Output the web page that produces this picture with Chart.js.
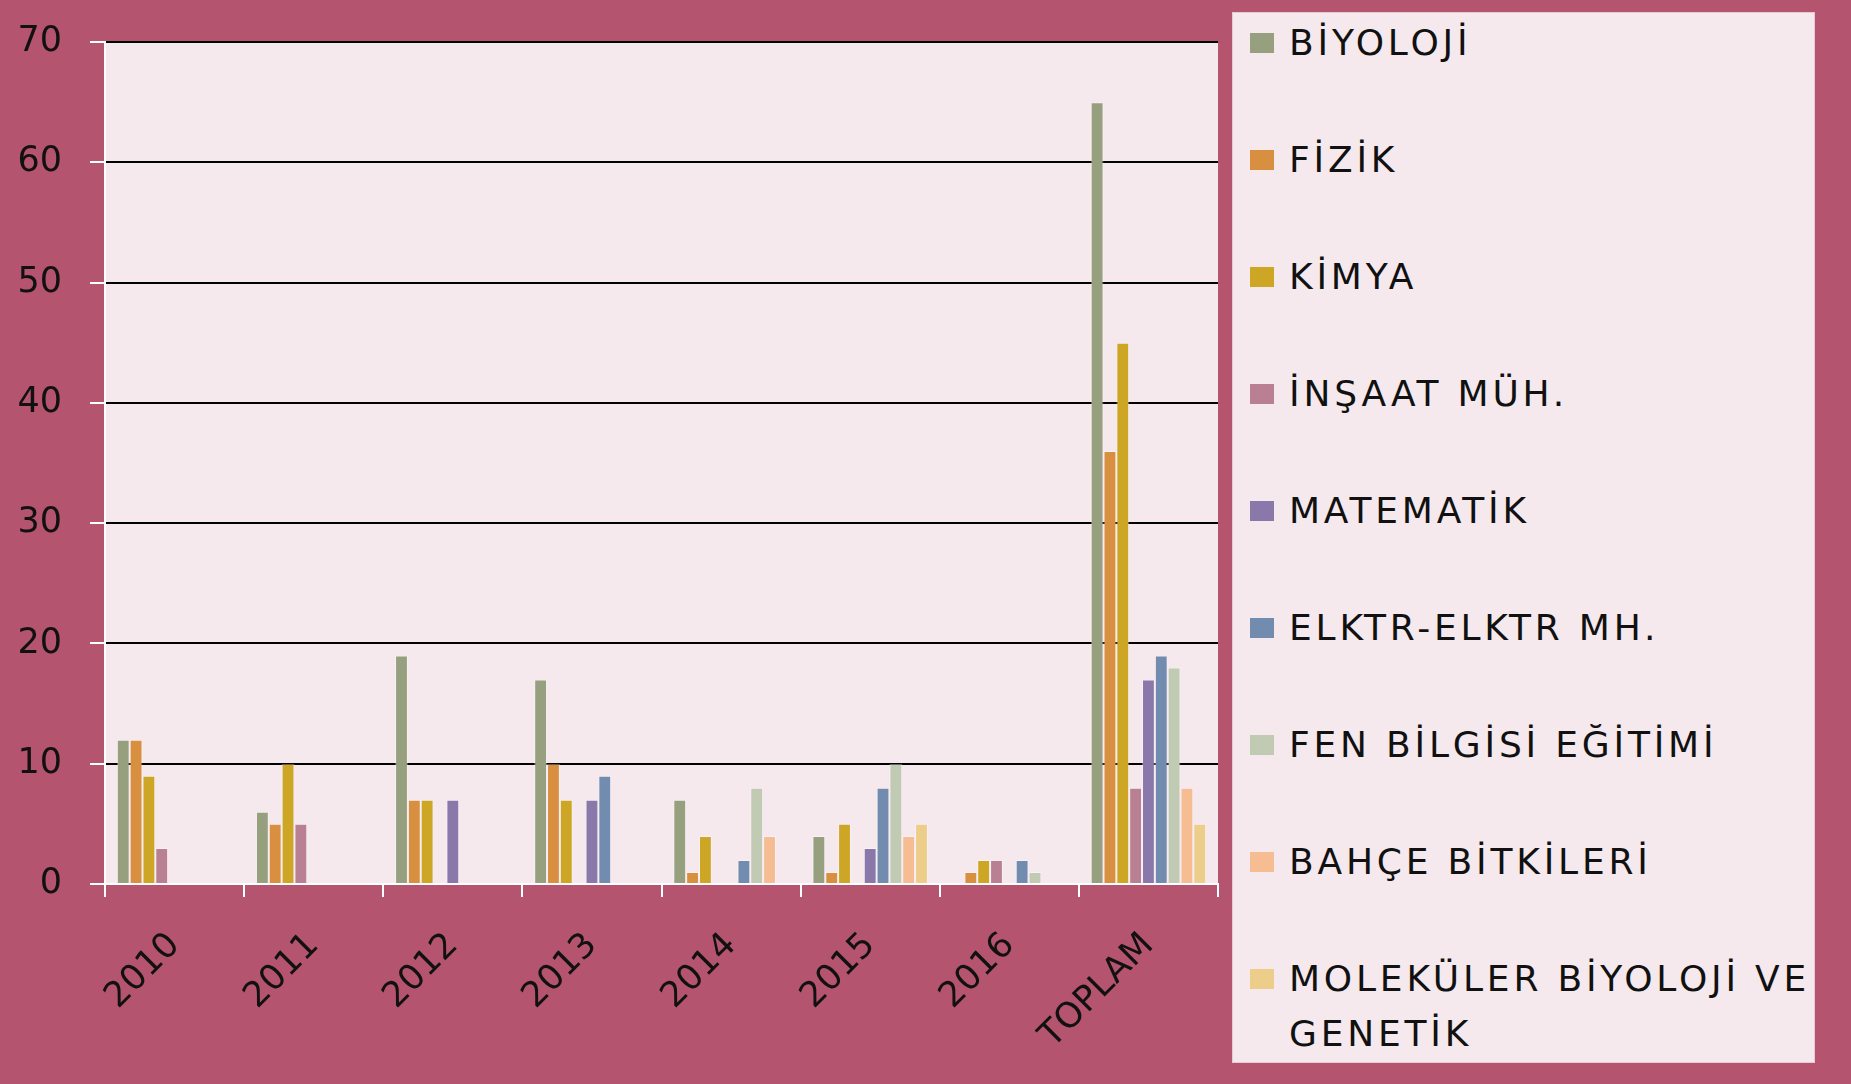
<!DOCTYPE html>
<html>
<head>
<meta charset="utf-8">
<script src="https://cdn.jsdelivr.net/npm/chart.js@4.4.1/dist/chart.umd.min.js"></script>
<style>
    body { margin: 0; background: #b5546f; width: 1851px; height: 1084px; overflow: hidden; font-family: "DejaVu Sans", sans-serif; }
    #wrap { position: absolute; left: 0; top: -7px; width: 1225px; height: 1091px; }
    #legend { position: absolute; left: 1232px; top: 12px; width: 583px; height: 1051px; background: #f5e9ee; box-sizing: border-box; border: 1px solid #e8c9d4; }
    .item { position: absolute; left: 0; display: flex; align-items: flex-start; }
    .swatch { width: 24px; height: 20px; margin-left: 17px; margin-top: 18px; flex: none; }
    .label { margin-left: 15px; font-size: 36px; letter-spacing: 3.8px; line-height: 55px; color: #111; width: 535px; }
</style>
</head>
<body>
<div id="wrap"><canvas id="chart"></canvas></div>
<div id="legend"></div>
<script>
const years = ['2010', '2011', '2012', '2013', '2014', '2015', '2016', 'TOPLAM'];
const seriesNames = ['BİYOLOJİ', 'FİZİK', 'KİMYA', 'İNŞAAT MÜH.', 'MATEMATİK', 'ELKTR-ELKTR MH.', 'FEN BİLGİSİ EĞİTİMİ', 'BAHÇE BİTKİLERİ', 'MOLEKÜLER BİYOLOJİ VE GENETİK'];
const colors = ['#96a07e', '#d89040', '#cca624', '#b88092', '#8b78aa', '#728caf', '#c1cab3', '#f6bc92', '#ecce8a'];

const biyoloji  = [12, 6, 19, 17, 7, 4, null, 65];
const fizik     = [12, 5, 7, 10, 1, 1, 1, 36];
const kimya     = [9, 10, 7, 7, 4, 5, 2, 45];
const insaat    = [3, 5, null, null, null, null, 2, 8];
const matematik = [null, null, 7, 7, null, 3, null, 17];
const elektrik  = [null, null, null, 9, 2, 8, 2, 19];
const fenBilgisi = [null, null, null, null, 8, 10, 1, 18];
const bahce     = [null, null, null, null, 4, 4, null, 8];
const molekuler = [null, null, null, null, null, 5, null, 5];

const allSeries = [biyoloji, fizik, kimya, insaat, matematik, elektrik, fenBilgisi, bahce, molekuler];
const yTicks = [0, 10, 20, 30, 40, 50, 60, 70];

// fill the plot area with the light pink
const plotBg = {
    id: 'plotBg',
    beforeDraw(chart) {
        const a = chart.chartArea;
        const c = chart.ctx;
        c.save();
        c.fillStyle = '#f5e9ee';
        c.fillRect(a.left, a.top, a.right - a.left, a.bottom - a.top);
        c.restore();
    }
};

const ctx = document.getElementById('chart').getContext('2d');
const chart = new Chart(ctx, {
    type: 'bar',
    data: {
        labels: years,
        datasets: allSeries.map((d, i) => ({
            label: seriesNames[i],
            data: d,
            backgroundColor: colors[i],
            borderColor: 'rgba(255,255,255,0.35)',
            borderWidth: 1,
            barPercentage: 1,
            categoryPercentage: 0.83
        }))
    },
    options: {
        responsive: true,
        maintainAspectRatio: false,
        animation: false,
        layout: { padding: { top: 20, right: 7, left: 0, bottom: 0 } },
        plugins: {
            legend: { display: false },
            tooltip: { enabled: false }
        },
        scales: {
            x: {
                afterFit: s => { s.height = 200; },
                grid: { drawOnChartArea: false, color: 'white', tickColor: 'white', tickLength: 13, lineWidth: 2 },
                border: { color: 'white', width: 2 },
                ticks: {
                    color: '#111',
                    font: { family: 'DejaVu Sans', size: 35 },
                    minRotation: 45,
                    maxRotation: 45,
                    padding: 28
                }
            },
            y: {
                min: 0,
                max: 70,
                afterFit: s => { s.width = 105; },
                afterBuildTicks: s => { s.ticks = yTicks.map(v => ({ value: v })); },
                grid: { color: '#000', lineWidth: 2, tickColor: 'white', tickLength: 15 },
                border: { color: 'white', width: 2 },
                ticks: {
                    color: '#111',
                    font: { family: 'DejaVu Sans', size: 35 },
                    padding: 28
                }
            }
        }
    },
    plugins: [plotBg]
});

// html legend on the right
const legend = document.getElementById('legend');
seriesNames.forEach((name, i) => {
    const item = document.createElement('div');
    item.className = 'item';
    item.style.top = (2 + 117 * i) + 'px';
    const sw = document.createElement('div');
    sw.className = 'swatch';
    sw.style.background = colors[i];
    const lb = document.createElement('div');
    lb.className = 'label';
    lb.textContent = name;
    item.appendChild(sw);
    item.appendChild(lb);
    legend.appendChild(item);
});
</script>
</body>
</html>
